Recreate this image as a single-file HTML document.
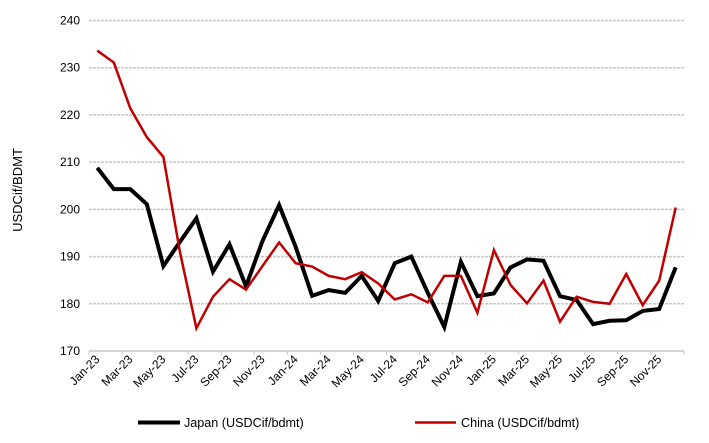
<!DOCTYPE html>
<html><head><meta charset="utf-8"><style>
html,body{margin:0;padding:0;background:#fff;}
svg{display:block;font-family:"Liberation Sans",Arial,sans-serif;}
</style></head><body>
<svg width="709" height="443" viewBox="0 0 709 443" xmlns="http://www.w3.org/2000/svg">
<g stroke="#c8c8c8" stroke-width="1.5" stroke-dasharray="3,1">
<line x1="89" x2="684" y1="20.5" y2="20.5"/>
<line x1="89" x2="684" y1="67.7" y2="67.7"/>
<line x1="89" x2="684" y1="114.9" y2="114.9"/>
<line x1="89" x2="684" y1="162.1" y2="162.1"/>
<line x1="89" x2="684" y1="209.4" y2="209.4"/>
<line x1="89" x2="684" y1="256.6" y2="256.6"/>
<line x1="89" x2="684" y1="303.8" y2="303.8"/>
</g>
<line x1="89" x2="684" y1="351" y2="351" stroke="#c8c8c8" stroke-width="1.5"/>
<g stroke="#c8c8c8" stroke-width="1">
<line x1="89" x2="89" y1="351" y2="355"/><line x1="122.1" x2="122.1" y1="351" y2="355"/><line x1="155.1" x2="155.1" y1="351" y2="355"/><line x1="188.2" x2="188.2" y1="351" y2="355"/><line x1="221.2" x2="221.2" y1="351" y2="355"/><line x1="254.3" x2="254.3" y1="351" y2="355"/><line x1="287.3" x2="287.3" y1="351" y2="355"/><line x1="320.4" x2="320.4" y1="351" y2="355"/><line x1="353.4" x2="353.4" y1="351" y2="355"/><line x1="386.5" x2="386.5" y1="351" y2="355"/><line x1="419.6" x2="419.6" y1="351" y2="355"/><line x1="452.6" x2="452.6" y1="351" y2="355"/><line x1="485.7" x2="485.7" y1="351" y2="355"/><line x1="518.7" x2="518.7" y1="351" y2="355"/><line x1="551.8" x2="551.8" y1="351" y2="355"/><line x1="584.8" x2="584.8" y1="351" y2="355"/><line x1="617.9" x2="617.9" y1="351" y2="355"/><line x1="650.9" x2="650.9" y1="351" y2="355"/><line x1="684" x2="684" y1="351" y2="355"/>
</g>
<g font-size="12" fill="#000" text-anchor="end">
<text x="80" y="24.5">240</text><text x="80" y="71.7">230</text><text x="80" y="118.9">220</text>
<text x="80" y="166.1">210</text><text x="80" y="213.4">200</text><text x="80" y="260.6">190</text>
<text x="80" y="307.8">180</text><text x="80" y="355">170</text>
</g>
<text font-size="13" transform="translate(22,190) rotate(-90)" text-anchor="middle">USDCif/BDMT</text>
<g font-size="12" text-anchor="end">
<text transform="translate(100.3,360) rotate(-45)">Jan-23</text>
<text transform="translate(133.3,360) rotate(-45)">Mar-23</text>
<text transform="translate(166.4,360) rotate(-45)">May-23</text>
<text transform="translate(199.4,360) rotate(-45)">Jul-23</text>
<text transform="translate(232.5,360) rotate(-45)">Sep-23</text>
<text transform="translate(265.5,360) rotate(-45)">Nov-23</text>
<text transform="translate(298.6,360) rotate(-45)">Jan-24</text>
<text transform="translate(331.6,360) rotate(-45)">Mar-24</text>
<text transform="translate(364.7,360) rotate(-45)">May-24</text>
<text transform="translate(397.8,360) rotate(-45)">Jul-24</text>
<text transform="translate(430.8,360) rotate(-45)">Sep-24</text>
<text transform="translate(463.9,360) rotate(-45)">Nov-24</text>
<text transform="translate(496.9,360) rotate(-45)">Jan-25</text>
<text transform="translate(530.0,360) rotate(-45)">Mar-25</text>
<text transform="translate(563.0,360) rotate(-45)">May-25</text>
<text transform="translate(596.1,360) rotate(-45)">Jul-25</text>
<text transform="translate(629.2,360) rotate(-45)">Sep-25</text>
<text transform="translate(662.2,360) rotate(-45)">Nov-25</text>
</g>
<polyline id="jp" fill="none" stroke="#000" stroke-width="4" stroke-linejoin="miter"/>
<polyline id="cn" fill="none" stroke="#c00000" stroke-width="2.5"/>
<line x1="138" x2="180" y1="422.5" y2="422.5" stroke="#000" stroke-width="4"/>
<text x="184" y="427" font-size="12.6">Japan (USDCif/bdmt)</text>
<line x1="415" x2="456" y1="422.5" y2="422.5" stroke="#c00000" stroke-width="2.5"/>
<text x="461" y="427" font-size="12.6">China (USDCif/bdmt)</text>
<script>
var jp=[208.8,204.3,204.3,201.1,188,193.1,198.1,186.8,192.6,183.7,193.3,200.9,192.1,181.7,182.9,182.3,185.9,180.6,188.6,190,182.3,175.1,188.9,181.6,182.2,187.7,189.4,189.1,181.6,180.8,175.7,176.4,176.5,178.5,178.9,187.7];
var cn=[233.6,231.1,221.4,215.3,211.1,191,174.8,181.5,185.2,183,188,193,188.6,187.9,185.9,185.2,186.7,184.3,180.9,182,180.3,185.9,185.9,178.1,191.4,184,180.1,184.9,176.2,181.5,180.4,180,186.3,179.7,184.9,200.4];
var w=595/36;
function X(i){return 89+w*(i+0.5);}function Y(v){return 20.5+(240-v)*4.7214;}
document.getElementById('jp').setAttribute('points',jp.map(function(v,i){return X(i).toFixed(1)+','+Y(v).toFixed(1)}).join(' '));
document.getElementById('cn').setAttribute('points',cn.map(function(v,i){return X(i).toFixed(1)+','+Y(v).toFixed(1)}).join(' '));
</script>
</svg>
</body></html>
